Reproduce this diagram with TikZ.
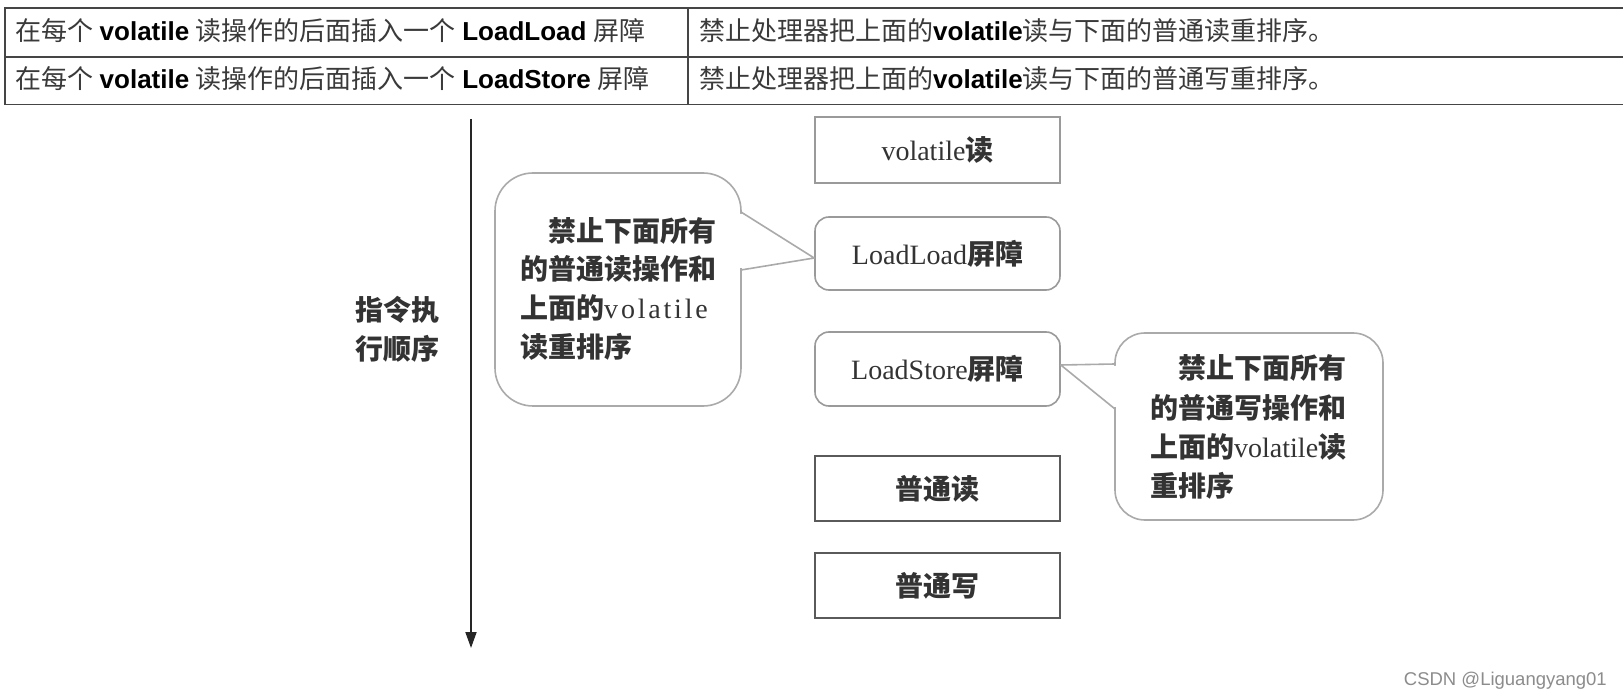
\documentclass[tikz,border=0pt]{standalone}
\usepackage{fontspec}
\setmainfont{Liberation Serif}
\newfontfamily\cjk{Noto Sans CJK SC}
\newfontfamily\tabsans{Liberation Sans}
\usetikzlibrary{arrows.meta,calc}
\definecolor{tline}{HTML}{454545}
\definecolor{tcjk}{HTML}{3A3A3A}
\definecolor{txt}{HTML}{333333}
\definecolor{boxgray}{HTML}{9A9A9A}
\definecolor{boxdark}{HTML}{5A5A5A}
\definecolor{calgray}{HTML}{AAAAAA}
\definecolor{wmgray}{HTML}{8C8C8C}
\tikzset{
  tabline/.style={draw=tline, line width=1.8pt},
  tabtxt/.style={anchor=west, inner sep=0pt, font=\fontsize{26}{30}\selectfont},
  dtxt/.style={inner sep=0pt, text=txt, font=\fontsize{28}{34}\selectfont},
  sqbox/.style={dtxt, draw=boxgray, line width=1.6pt, minimum width=245pt},
  rdbox/.style={sqbox, rounded corners=14pt},
  dkbox/.style={sqbox, draw=boxdark},
  callout/.style={draw=calgray, line width=1.6pt},
  cline/.style={dtxt, anchor=west},
  arrowline/.style={draw=black!85, line width=1.8pt, -{Triangle[length=16pt,width=11pt]}},
}
\newcommand{\tc}[1]{{\cjk\color{tcjk}#1}}
\newcommand{\tl}[1]{{\tabsans\bfseries #1}}
\newcommand{\dc}[1]{{\cjk\bfseries #1}}
\begin{document}
\begin{tikzpicture}[x=1pt,y=-1pt]
\fill[white] (0,0) rectangle (1623,700);
\useasboundingbox (0,0) rectangle (1623,700);
% table
\draw[tabline] (1623,8) -- (5,8) -- (5,104.5) -- (1623,104.5);
\draw[tabline] (5,57) -- (1623,57);
\draw[tabline] (688,8) -- (688,104.5);
\node[tabtxt] (t11) at (15,31) {\tc{在每个} \tl{volatile} \tc{读操作的后面插入一个} \tl{LoadLoad} \tc{屏障}};
\node[tabtxt] (t21) at (15,79) {\tc{在每个} \tl{volatile} \tc{读操作的后面插入一个} \tl{LoadStore} \tc{屏障}};
\node[tabtxt] (t12) at (699,31) {\tc{禁止处理器把上面的}\tl{volatile}\tc{读与下面的普通读重排序。}};
\node[tabtxt] (t22) at (699,79) {\tc{禁止处理器把上面的}\tl{volatile}\tc{读与下面的普通写重排序。}};
% time arrow
\coordinate (atop) at (471,119);
\coordinate (abot) at (471,648);
\draw[arrowline] (atop) -- (abot);
\node[dtxt] (ord1) at (397,310) {\dc{指令执}};
\node[dtxt] (ord2) at (397,349) {\dc{行顺序}};
% boxes
\node[sqbox, minimum height=66pt] (vr) at (937.5,150) {volatile\dc{读}};
\node[rdbox, minimum height=73pt] (ll) at (937.5,253.5) {LoadLoad\dc{屏障}};
\node[rdbox, minimum height=74pt] (ls) at (937.5,369) {LoadStore\dc{屏障}};
\node[dkbox, minimum height=65pt] (pr) at (937.5,488.5) {\dc{普通读}};
\node[dkbox, minimum height=65pt] (pw) at (937.5,585.5) {\dc{普通写}};
% left callout
\coordinate (ltip) at ($(ll.west)+(0,4.5)$);
\draw[callout, rounded corners=38pt] (495,173) rectangle (741,406);
\fill[white] (737,214) -- (743,214) -- (ltip) -- (743,268) -- (737,268) -- cycle;
\draw[callout, line join=round] (741,212) -- (ltip) -- (741,270);
\node[cline] (lc1) at (520,231) {\dc{　禁止下面所有}};
\node[cline] (lc2) at (520,269) {\dc{的普通读操作和}};
\node[cline] (lc3) at (520,308) {\dc{上面的}{\addfontfeature{LetterSpace=10}volatile}};
\node[cline] (lc4) at (520,347) {\dc{读重排序}};
% right callout
\coordinate (rtip) at ($(ls.east)+(0,-4)$);
\draw[callout, rounded corners=30pt] (1115,333) rectangle (1383,520);
\fill[white] (1119,366) -- (1113,366) -- (rtip) -- (1113,407) -- (1119,407) -- cycle;
\draw[callout, line join=round] (1115,364) -- (rtip) -- (1115,409);
\node[cline] (rc1) at (1150,368) {\dc{　禁止下面所有}};
\node[cline] (rc2) at (1150,408) {\dc{的普通写操作和}};
\node[cline] (rc3) at (1150,447) {\dc{上面的}volatile\dc{读}};
\node[cline] (rc4) at (1150,486) {\dc{重排序}};
% watermark
\node[anchor=east, inner sep=0pt, text=wmgray, font=\tabsans\fontsize{18.5}{22}\selectfont] (wm) at (1607,681) {CSDN @Liguangyang01};
\end{tikzpicture}
\end{document}
